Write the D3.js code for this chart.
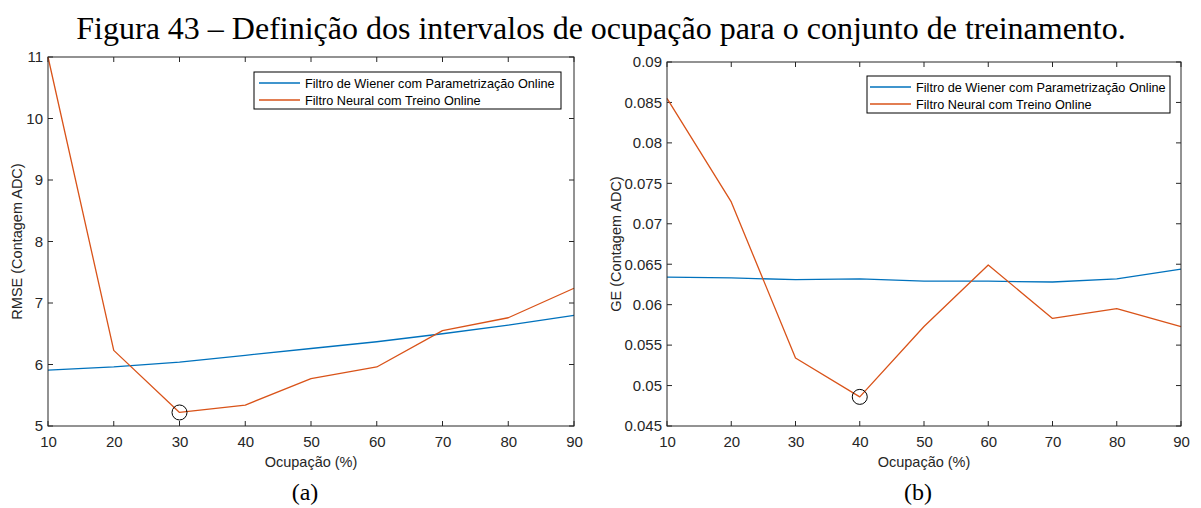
<!DOCTYPE html>
<html>
<head>
<meta charset="utf-8">
<script src="https://cdn.jsdelivr.net/npm/d3@7"></script>
<style>
  html, body { margin: 0; padding: 0; background: #fff; }
  svg { display: block; }
</style>
</head>
<body>
<svg id="fig" width="1201" height="508"></svg>
<script>
// Occupancy levels (%) shared by both panels
const occupancy = [10, 20, 30, 40, 50, 60, 70, 80, 90];

// Panel (a): RMSE in ADC counts
const rmseWiener = [5.91, 5.96, 6.04, 6.15, 6.26, 6.37, 6.50, 6.64, 6.80];
const rmseNeural = [11.0, 6.23, 5.22, 5.34, 5.77, 5.96, 6.55, 6.76, 7.24];
const rmseTicks = [5, 6, 7, 8, 9, 10, 11];

// Panel (b): GE in ADC counts
const geWiener = [0.0634, 0.0633, 0.0631, 0.0632, 0.0629, 0.0629, 0.0628, 0.0632, 0.0644];
const geNeural = [0.0855, 0.0727, 0.0534, 0.0486, 0.0573, 0.0649, 0.0583, 0.0595, 0.0573];
const geTicks = [0.045, 0.05, 0.055, 0.06, 0.065, 0.07, 0.075, 0.08, 0.085, 0.09];

const seriesNames = ["Filtro de Wiener com Parametrização Online", "Filtro Neural com Treino Online"];
const seriesColors = ["#0072BD", "#D95319"];

const svg = d3.select("#fig");
const axisColor = "#262626";
const tickFont = "Liberation Sans, Arial, sans-serif";

svg.append("text")
  .attr("x", 601).attr("y", 39)
  .attr("text-anchor", "middle")
  .attr("font-family", "Liberation Serif, 'Times New Roman', serif")
  .attr("font-size", 32)
  .attr("fill", "#000")
  .text("Figura 43 – Definição dos intervalos de ocupação para o conjunto de treinamento.");

function panel(cfg) {
  const x = d3.scaleLinear().domain([10, 90]).range([cfg.left, cfg.right]);
  const y = d3.scaleLinear().domain(cfg.yDomain).range([cfg.bottom, cfg.top]);
  const g = svg.append("g");
  const tl = 5;

  // bottom and left axes with inward ticks
  const xa = g.append("g").attr("transform", `translate(0,${cfg.bottom})`)
    .call(d3.axisBottom(x).tickValues(occupancy).tickSize(0).tickPadding(10).tickFormat(d3.format("d")));
  const ya = g.append("g").attr("transform", `translate(${cfg.left},0)`)
    .call(d3.axisLeft(y).tickValues(cfg.yTicks).tickSize(0).tickPadding(5).tickFormat(cfg.yFormat));
  [xa, ya].forEach(a => {
    a.select(".domain").remove();
    a.selectAll("text").attr("font-family", tickFont).attr("font-size", 15).attr("fill", axisColor);
  });

  // tick marks on all four sides, pointing into the plot
  const tk = g.append("g").attr("stroke", axisColor).attr("stroke-width", 1);
  occupancy.forEach(v => {
    tk.append("line").attr("x1", x(v)).attr("x2", x(v)).attr("y1", cfg.bottom).attr("y2", cfg.bottom - tl);
    tk.append("line").attr("x1", x(v)).attr("x2", x(v)).attr("y1", cfg.top).attr("y2", cfg.top + tl);
  });
  cfg.yTicks.forEach(v => {
    tk.append("line").attr("x1", cfg.left).attr("x2", cfg.left + tl).attr("y1", y(v)).attr("y2", y(v));
    tk.append("line").attr("x1", cfg.right).attr("x2", cfg.right - tl).attr("y1", y(v)).attr("y2", y(v));
  });

  // data lines
  const line = d3.line().x((d, i) => x(occupancy[i])).y(d => y(d));
  [cfg.wiener, cfg.neural].forEach((s, k) => {
    g.append("path").datum(s)
      .attr("fill", "none").attr("stroke", seriesColors[k]).attr("stroke-width", 1.3)
      .attr("stroke-linejoin", "round")
      .attr("d", line);
  });

  // minimum marker
  g.append("circle")
    .attr("cx", x(occupancy[cfg.minIndex])).attr("cy", y(cfg.neural[cfg.minIndex]))
    .attr("r", 7.5).attr("fill", "none").attr("stroke", "#000").attr("stroke-width", 1);

  // axes box
  g.append("rect")
    .attr("x", cfg.left).attr("y", cfg.top)
    .attr("width", cfg.right - cfg.left).attr("height", cfg.bottom - cfg.top)
    .attr("fill", "none").attr("stroke", axisColor).attr("stroke-width", 1);

  // legend
  const lg = g.append("g");
  lg.append("rect")
    .attr("x", cfg.legX).attr("y", cfg.legY).attr("width", cfg.legW).attr("height", 37)
    .attr("fill", "#fff").attr("stroke", "#000").attr("stroke-width", 1);
  seriesNames.forEach((name, k) => {
    const ly = cfg.legY + 11 + k * 17;
    lg.append("line")
      .attr("x1", cfg.legX + cfg.legPad).attr("x2", cfg.legX + cfg.legPad + 41)
      .attr("y1", ly).attr("y2", ly)
      .attr("stroke", seriesColors[k]).attr("stroke-width", 1.3);
    lg.append("text")
      .attr("x", cfg.legX + cfg.legPad + 46).attr("y", ly + 4.5)
      .attr("font-family", tickFont).attr("font-size", 12.7).attr("fill", "#000")
      .text(name);
  });

  // axis titles
  g.append("text")
    .attr("x", (cfg.left + cfg.right) / 2).attr("y", cfg.bottom + 41)
    .attr("text-anchor", "middle")
    .attr("font-family", tickFont).attr("font-size", 14.5).attr("fill", axisColor)
    .text("Ocupação (%)");
  g.append("text")
    .attr("transform", `translate(${cfg.yTitleX},${(cfg.top + cfg.bottom) / 2}) rotate(-90)`)
    .attr("text-anchor", "middle")
    .attr("font-family", tickFont).attr("font-size", 14.5).attr("fill", axisColor)
    .text(cfg.yTitle);

  // sub-caption
  g.append("text")
    .attr("x", (cfg.left + cfg.right) / 2 - 6).attr("y", 500)
    .attr("text-anchor", "middle")
    .attr("font-family", "Liberation Serif, 'Times New Roman', serif")
    .attr("font-size", 24).attr("fill", "#000")
    .text(cfg.caption);
}

panel({
  left: 48, right: 574, top: 57, bottom: 426,
  yDomain: [5, 11], yTicks: rmseTicks, yFormat: d3.format("d"),
  wiener: rmseWiener, neural: rmseNeural, minIndex: 2,
  legX: 254, legY: 72, legW: 307, legPad: 5,
  yTitle: "RMSE (Contagem ADC)", yTitleX: 22, caption: "(a)"
});

panel({
  left: 667, right: 1181, top: 62, bottom: 426,
  yDomain: [0.045, 0.09], yTicks: geTicks, yFormat: d => d3.format("")(+d.toFixed(3)),
  wiener: geWiener, neural: geNeural, minIndex: 3,
  legX: 867, legY: 76, legW: 303, legPad: 3,
  yTitle: "GE (Contagem ADC)", yTitleX: 621, caption: "(b)"
});
</script>
</body>
</html>
